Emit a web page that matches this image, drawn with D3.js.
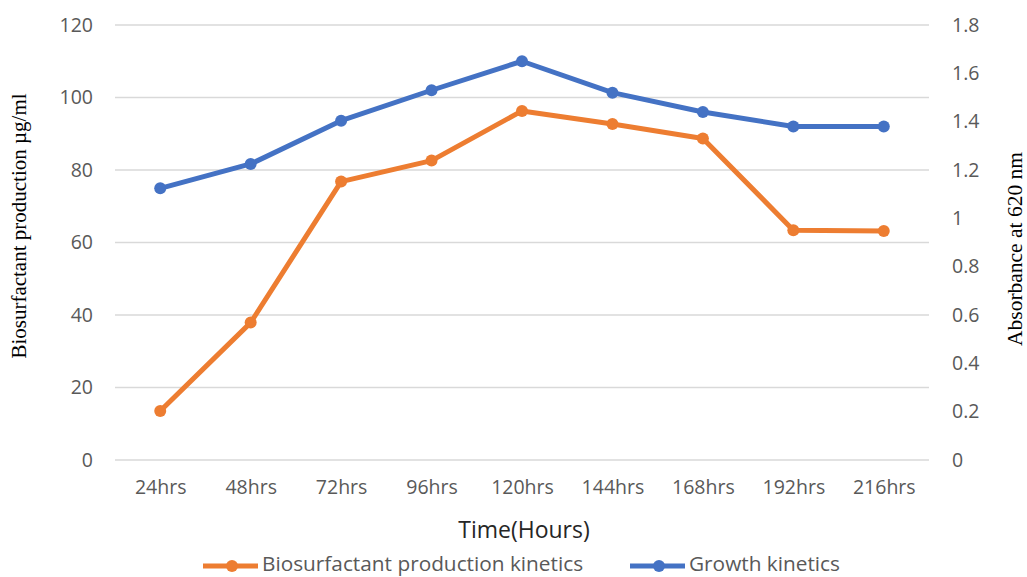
<!DOCTYPE html>
<html>
<head>
<meta charset="utf-8">
<script src="https://cdn.jsdelivr.net/npm/d3@7"></script>
<style>
  html, body { margin: 0; padding: 0; background: #fff; }
  svg { display: block; }
</style>
</head>
<body>
<svg id="chart" width="1027" height="577"></svg>
<script>
// Sampling times
const categories = ["24hrs", "48hrs", "72hrs", "96hrs", "120hrs", "144hrs", "168hrs", "192hrs", "216hrs"];
// Biosurfactant production (µg/ml), left axis
const production = [13.5, 37.9, 76.8, 82.6, 96.3, 92.7, 88.7, 63.4, 63.2];
// Absorbance at 620 nm, right axis
const growth = [1.124, 1.225, 1.404, 1.53, 1.65, 1.52, 1.44, 1.38, 1.38];
// Axis ticks
const leftTicks = [0, 20, 40, 60, 80, 100, 120];
const rightTicks = [0, 0.2, 0.4, 0.6, 0.8, 1, 1.2, 1.4, 1.6, 1.8];

const seriesNames = ["Biosurfactant production kinetics", "Growth kinetics"];
const colors = ["#ED7D31", "#4472C4"];

const svg = d3.select("#chart");
const plotLeft = 115, plotRight = 929, plotTop = 25, plotBottom = 460;

const x = d3.scalePoint().domain(categories).range([plotLeft, plotRight]).padding(0.5);
const yL = d3.scaleLinear().domain([0, 120]).range([plotBottom, plotTop]);
const yR = d3.scaleLinear().domain([0, 1.8]).range([plotBottom, plotTop]);

const sans = "'Open Sans', sans-serif";
const serif = "'Liberation Serif', 'Times New Roman', serif";

// Horizontal gridlines
svg.append("g")
  .selectAll("line")
  .data(leftTicks)
  .join("line")
  .attr("x1", plotLeft).attr("x2", plotRight)
  .attr("y1", d => yL(d)).attr("y2", d => yL(d))
  .attr("stroke", "#d9d9d9").attr("stroke-width", 1.3);

// Left axis
const axL = svg.append("g").attr("transform", `translate(${plotLeft - 22},0)`)
  .call(d3.axisLeft(yL).tickValues(leftTicks).tickSize(0).tickPadding(0));
axL.select(".domain").remove();
axL.selectAll("text").attr("font-family", sans).attr("font-size", 19.5).attr("fill", "#595959");

// Right axis
const axR = svg.append("g").attr("transform", `translate(${plotRight + 23},0)`)
  .call(d3.axisRight(yR).tickValues(rightTicks).tickSize(0).tickPadding(0).tickFormat(d3.format("~g")));
axR.select(".domain").remove();
axR.selectAll("text").attr("font-family", sans).attr("font-size", 19.5).attr("fill", "#595959");

// Bottom axis
const axB = svg.append("g").attr("transform", `translate(0,${plotBottom + 20})`)
  .call(d3.axisBottom(x).tickSize(0).tickPadding(0));
axB.select(".domain").remove();
axB.selectAll("text").attr("font-family", sans).attr("font-size", 19.5).attr("fill", "#595959");

// Axis titles
svg.append("text")
  .attr("transform", "translate(26,226) rotate(-90)")
  .attr("text-anchor", "middle")
  .attr("font-family", serif).attr("font-size", 21).attr("fill", "#000")
  .text("Biosurfactant production µg/ml");

svg.append("text")
  .attr("transform", "translate(1022,249) rotate(-90)")
  .attr("text-anchor", "middle")
  .attr("font-family", serif).attr("font-size", 21.5).attr("fill", "#000")
  .text("Absorbance at 620 nm");

svg.append("text")
  .attr("x", 524).attr("y", 538)
  .attr("text-anchor", "middle")
  .attr("font-family", sans).attr("font-size", 23).attr("fill", "#262626")
  .text("Time(Hours)");

// Series lines and markers
const series = [
  { name: seriesNames[0], values: production, y: yL, color: colors[0] },
  { name: seriesNames[1], values: growth, y: yR, color: colors[1] }
];

series.forEach(s => {
  const line = d3.line().x((d, i) => x(categories[i])).y(d => s.y(d));
  const g = svg.append("g");
  g.append("path")
    .datum(s.values)
    .attr("d", line)
    .attr("fill", "none")
    .attr("stroke", s.color)
    .attr("stroke-width", 5)
    .attr("stroke-linejoin", "round");
  g.selectAll("circle")
    .data(s.values)
    .join("circle")
    .attr("cx", (d, i) => x(categories[i]))
    .attr("cy", d => s.y(d))
    .attr("r", 6)
    .attr("fill", s.color);
});

// Legend
const legendItems = [
  { x0: 203, name: seriesNames[0], color: colors[0] },
  { x0: 630, name: seriesNames[1], color: colors[1] }
];
const lg = svg.append("g");
legendItems.forEach(it => {
  lg.append("line")
    .attr("x1", it.x0).attr("x2", it.x0 + 55)
    .attr("y1", 566).attr("y2", 566)
    .attr("stroke", it.color).attr("stroke-width", 5);
  lg.append("circle")
    .attr("cx", it.x0 + 29).attr("cy", 566).attr("r", 6)
    .attr("fill", it.color);
  lg.append("text")
    .attr("x", it.x0 + 59).attr("y", 571)
    .attr("font-family", sans).attr("font-size", 20.8).attr("fill", "#595959")
    .text(it.name);
});
</script>
</body>
</html>
